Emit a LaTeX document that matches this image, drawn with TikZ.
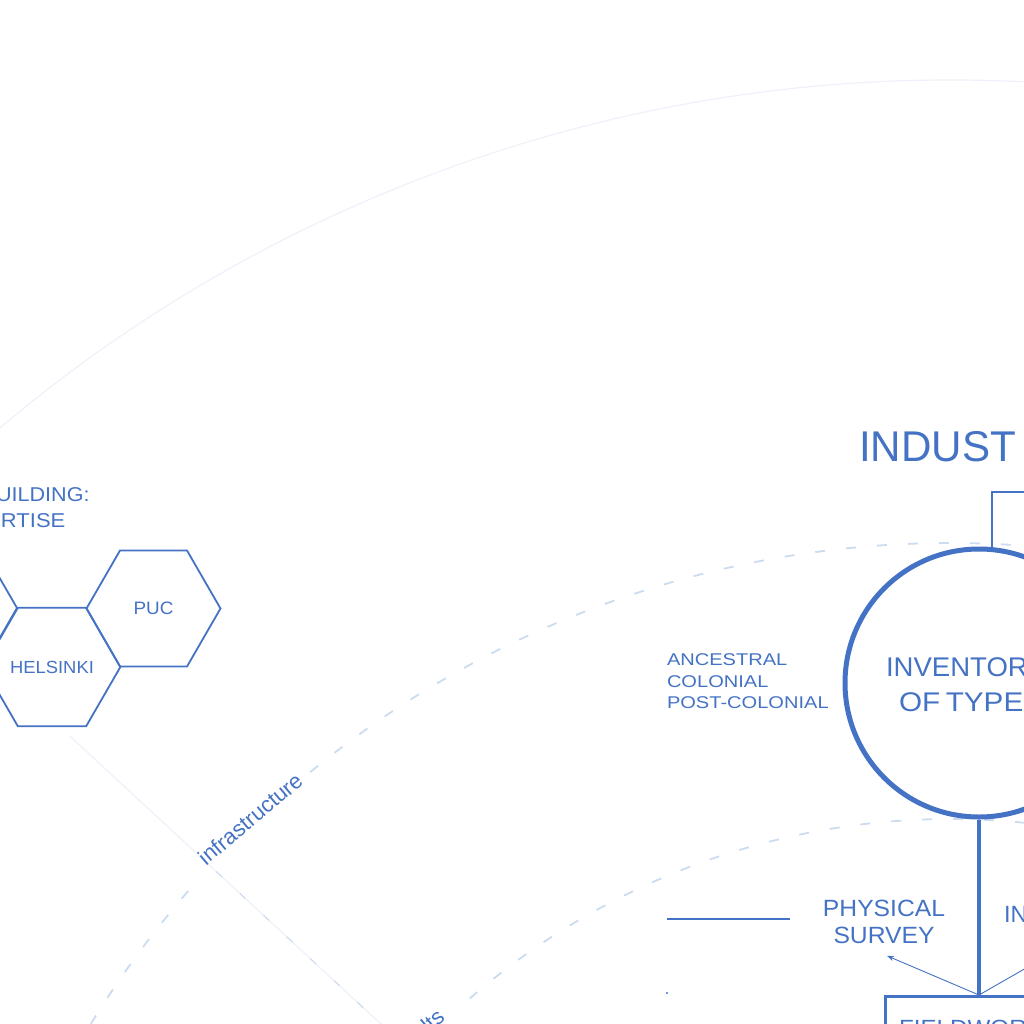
\documentclass[tikz,border=0pt]{standalone}
\usepackage{fontspec}
\usepackage{graphicx}
\setmainfont{Liberation Sans}
\usetikzlibrary{shapes.geometric,arrows.meta,calc}
\definecolor{blu}{HTML}{4472C4}
\definecolor{dashc}{RGB}{204,220,240}
\definecolor{faint}{RGB}{238,241,249}
\newcommand{\fsz}[1]{\fontsize{#1}{#1}\selectfont}
\newcommand{\xs}[2]{\scalebox{#1}[1]{#2}}
\begin{document}
\begin{tikzpicture}[x=1pt,y=-1pt,
  txt/.style={text=blu, inner sep=0pt, outer sep=0pt},
  hexa/.style={regular polygon, regular polygon sides=6, minimum size=134pt, draw=blu, line width=1.8pt, inner sep=0pt, text=blu},
  ring/.style={dashc, line width=1.8pt, dash pattern=on 10pt off 21pt},
  faintline/.style={faint, line width=1.2pt},
  thinarrow/.style={blu, line width=0.9pt, -{Stealth[length=7pt,width=5pt]}}]

\useasboundingbox (0,0) rectangle (1024,1024);
\clip (0,0) rectangle (1024,1024);

\coordinate (C) at (950,1551);

% faint outer ring
\draw[faintline] (C) ++(-136:1471) arc[start angle=-136, end angle=-80, radius=1471];
% dashed rings
\draw[ring] (C) ++(-152:1008) arc[start angle=-152, end angle=-138.6, radius=1008];
\draw[ring] (C) ++(-129.4:1008) arc[start angle=-129.4, end angle=-83, radius=1008];
\draw[ring] (C) ++(-131:732) arc[start angle=-131, end angle=-83, radius=732];
% faint radial line
\coordinate (rad1) at ($(C)+(-137.2:1200)$);
\coordinate (rad2) at ($(C)+(-137.2:700)$);
\coordinate (rad3) at ($(C)+(-137.2:1000)$);
\draw[faintline] (rad1) -- (rad2);
\draw[ring, line width=1.1pt, dash pattern=on 8pt off 24pt] (rad3) -- (rad2);

% hexagons
\node[hexa] (hx0) at (-50,608) {};
\node[hexa, font=\fsz{17.5}] (hx1) at (52,667) {\xs{1.05}{HELSINKI}};
\node[hexa, font=\fsz{18}] (hx2) at (153.5,608.5) {\xs{1.05}{PUC}};

\node[txt, anchor=base west, font=\fsz{20}] (t1) at (-4,501) {\xs{1.08}{UILDING:}};
\node[txt, anchor=base west, font=\fsz{20}] (t2) at (1,527) {\xs{1.1}{RTISE}};

% title
\node[txt, anchor=base west, font=\fsz{43}] (ttl) at (859,461) {\xs{0.98}{INDUST}};

% inventory circle
\node[draw=blu, circle, line width=5pt, minimum size=268pt, inner sep=0pt] (inv) at (979,683) {};
\node[txt, anchor=base west, font=\fsz{27}] (inv1) at (886,676) {\xs{1.02}{INVENTOR}};
\node[txt, anchor=base west, font=\fsz{27}] (inv2) at (899,711) {\xs{1.1}{OF\hspace{5pt}TYPE}};

% periods
\node[txt, anchor=base west, font=\fsz{17}] (p1) at (667,665) {\xs{1.18}{ANCESTRAL}};
\node[txt, anchor=base west, font=\fsz{17}] (p2) at (667,687) {\xs{1.18}{COLONIAL}};
\node[txt, anchor=base west, font=\fsz{17}] (p3) at (667,708) {\xs{1.18}{POST-COLONIAL}};

% top bracket
\coordinate (tr) at (1040,492);
\coordinate (brk) at (992,551);
\draw[blu, line width=2pt] (tr) -| (brk);

% fieldwork box
\node[draw=blu, line width=2.5pt, minimum width=232pt, minimum height=90pt, inner sep=0pt, anchor=north west] (fw) at (884,995) {};
\node[txt, anchor=north west, font=\fsz{22}] (fwt) at (899,1020) {\xs{1.1}{FIELDWORK}};
\coordinate (fwtop) at (inv.south |- fw.north);
\draw[blu, line width=4pt] (inv.south) -- (fwtop);

% physical survey
\node[txt, align=center, font=\fontsize{23.5}{27}\selectfont] (ps) at (884,922) {\xs{1.05}{PHYSICAL}\\\xs{1.05}{SURVEY}};
\node[txt, anchor=base west, font=\fsz{23.5}] (in1) at (1004,922) {IN};
\coordinate (psarr) at ($(ps.south)+(3,12)$);
\coordinate (inarr) at (1068,944);
\draw[thinarrow] (fwtop) -- (psarr);
\draw[thinarrow] (fwtop) -- (inarr);

% lone line and dot
\coordinate (hl1) at (667,919);
\coordinate (hl2) at (790,919);
\draw[blu, line width=1.8pt] (hl1) -- (hl2);
\fill[blu] (667,993) circle (1.2);

% ring labels
\node[txt, anchor=base west, rotate=40, font=\fsz{22}] (lab1) at (206,866) {infrastructure};
\node[txt, anchor=base east, rotate=41, font=\fsz{22}] (lab2) at (446,1019) {lts};
\end{tikzpicture}
\end{document}
